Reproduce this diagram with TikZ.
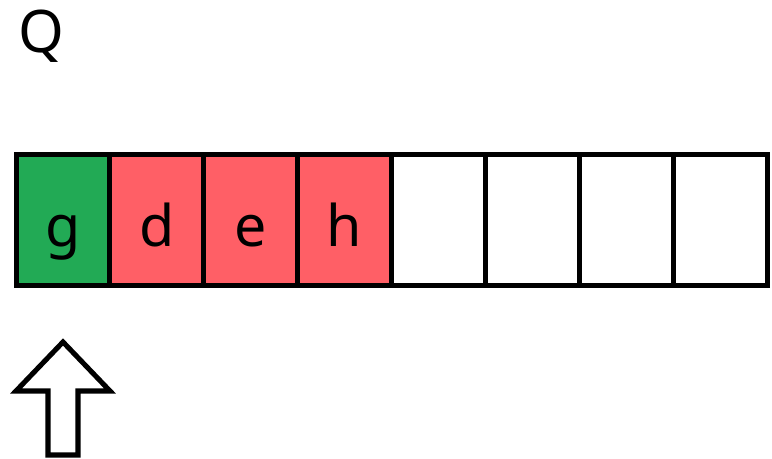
\documentclass[tikz,border=0pt]{standalone}
\usepackage{fontspec}
\setmainfont{Noto Sans}
\usetikzlibrary{positioning}
\definecolor{headcol}{HTML}{22AA55}
\definecolor{seencol}{HTML}{FF5F66}

\begin{document}
\begin{tikzpicture}[x=0.75pt,y=-0.75pt,
  cell/.style={draw=black,line width=3.8pt,minimum width=70.4pt,
               minimum height=98.2pt,inner sep=0pt,text height=39.8pt,
               text depth=0pt,font=\fontsize{43}{48}\selectfont},
  ptr/.style={draw=black,fill=white,line width=3.8pt,line join=miter},
]
\useasboundingbox (0,0) rectangle (772,459);
\node[anchor=base west,inner sep=0pt,font=\fontsize{44}{50}\selectfont] (q) at (18,53) {Q};
\foreach \i/\t/\c in {0/g/headcol,1/d/seencol,2/e/seencol,3/h/seencol,
                      4//white,5//white,6//white,7//white}
  \node[cell,fill=\c] (c\i) at (63+93.875*\i,220) {\t};
% pointer under the queue head
\draw[ptr] (63,342) -- (110,391) -- (78,391) -- (78,455) -- (48,455)
  -- (48,391) -- (16,391) -- cycle;
\end{tikzpicture}
\end{document}
